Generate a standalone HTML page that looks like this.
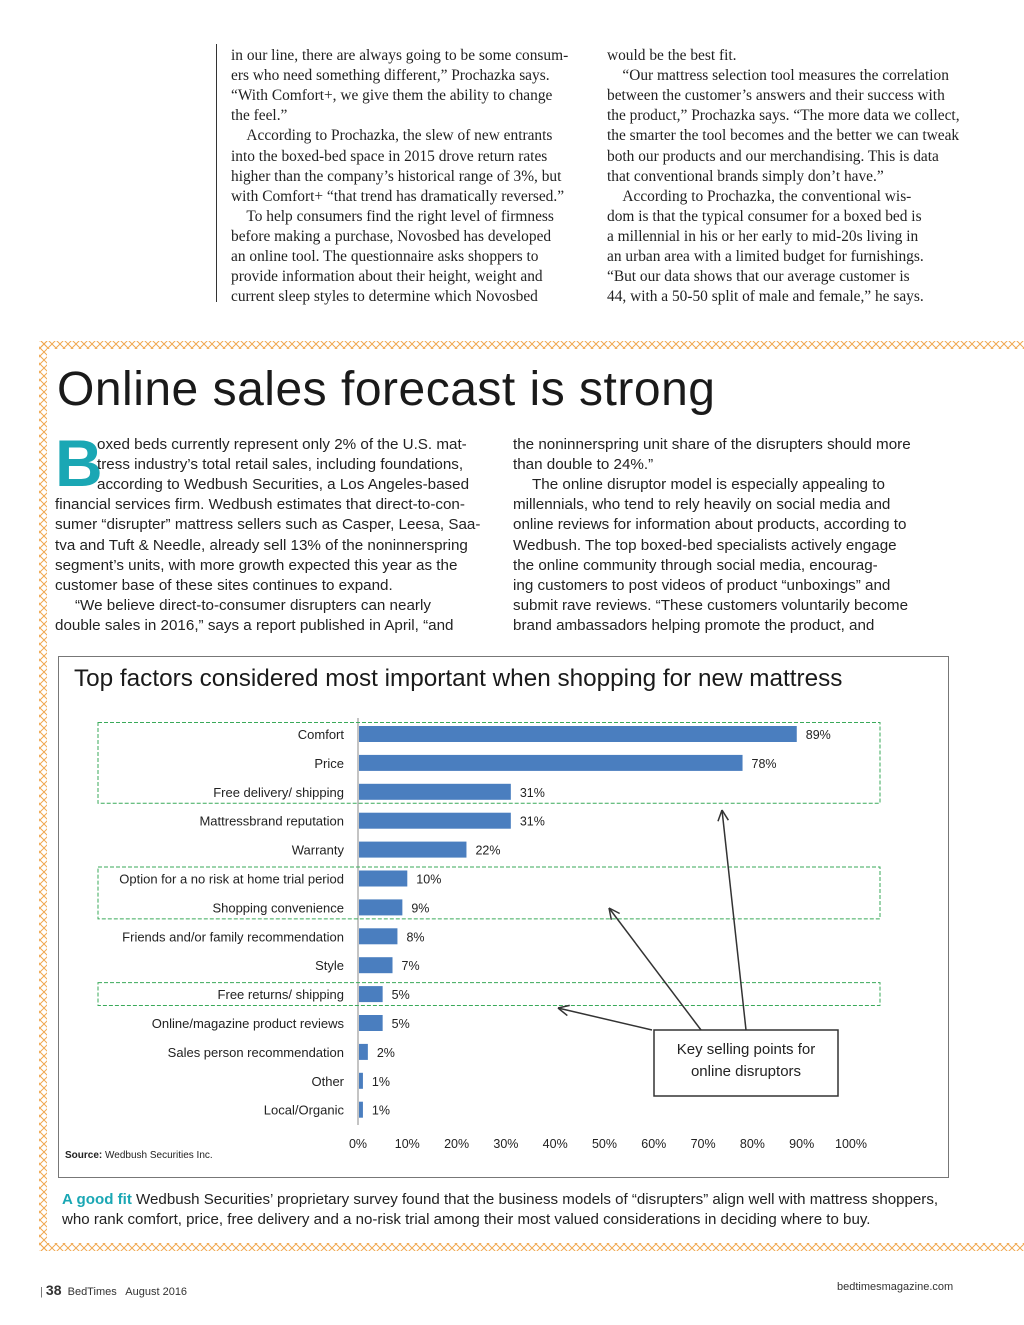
<!DOCTYPE html>
<html><head><meta charset="utf-8">
<style>
body{margin:0;background:#fff;}
#page{position:relative;width:1024px;height:1325px;overflow:hidden;background:#fff;font-family:"Liberation Sans",sans-serif;color:#222;}
.sl{position:absolute;font-family:"Liberation Serif",serif;font-size:15.4px;color:#222;white-space:nowrap;}
.al{position:absolute;font-size:15.2px;color:#222;white-space:nowrap;}
</style></head>
<body>
<div id="page">
<div style="position:absolute;left:216px;top:44px;width:1px;height:258px;background:#333"></div>
<div id="col1"></div>
<div id="col2"></div>

<svg width="1024" height="1325" style="position:absolute;left:0;top:0">
<defs>
<pattern id="ph" width="8" height="8" patternUnits="userSpaceOnUse"><path d="M0 4 L4 0 L8 4 L4 8 Z" fill="none" stroke="#f0a850" stroke-width="1"/></pattern>
</defs>
<rect x="40" y="341" width="984" height="8" fill="url(#ph)"/>
<rect x="40" y="1243" width="984" height="8" fill="url(#ph)"/>
<rect x="39" y="341" width="8" height="910" fill="url(#ph)"/>
</svg>

<div style="position:absolute;left:57px;top:362px;font-size:48px;color:#1a1a1a;letter-spacing:0.5px">Online sales forecast is strong</div>
<div style="position:absolute;left:55px;top:430px;font-size:66px;font-weight:bold;color:#1aa7b4;line-height:1">B</div>
<div id="art1"></div>
<div id="art2"></div>

<div style="position:absolute;left:58px;top:656px;width:889px;height:520px;border:1px solid #777"></div>
<div style="position:absolute;left:74px;top:665px;font-size:24.3px;color:#1a1a1a">Top factors considered most important when shopping for new mattress</div>
<svg id="chart" width="1024" height="1325" style="position:absolute;left:0;top:0"></svg>
<div style="position:absolute;left:65px;top:1150px;font-size:10px;color:#222"><b>Source:</b> Wedbush Securities Inc.</div>

<div style="position:absolute;left:62px;top:1190px;font-size:15.1px;line-height:20px;color:#222;white-space:nowrap"><b style="color:#1aa7b4">A good fit</b> Wedbush Securities’ proprietary survey found that the business models of “disrupters” align well with mattress shoppers,<br>who rank comfort, price, free delivery and a no-risk trial among their most valued considerations in deciding where to buy.</div>

<div style="position:absolute;left:40px;top:1282px;font-size:11px;color:#333;white-space:nowrap"><span style="color:#666">|</span> <b style="font-size:14px">38</b>&nbsp;&nbsp;BedTimes&nbsp;&nbsp; August 2016</div>
<div style="position:absolute;left:837px;top:1281px;font-size:11px;color:#333">bedtimesmagazine.com</div>
</div>

<script>
const col1Lines=["in our line, there are always going to be some consum-","ers who need something different,” Prochazka says.","“With Comfort+, we give them the ability to change","the feel.”","\u00a0\u00a0\u00a0\u00a0According to Prochazka, the slew of new entrants","into the boxed-bed space in 2015 drove return rates","higher than the company’s historical range of 3%, but","with Comfort+ “that trend has dramatically reversed.”","\u00a0\u00a0\u00a0\u00a0To help consumers find the right level of firmness","before making a purchase, Novosbed has developed","an online tool. The questionnaire asks shoppers to","provide information about their height, weight and","current sleep styles to determine which Novosbed"];
const col2Lines=["would be the best fit.","\u00a0\u00a0\u00a0\u00a0“Our mattress selection tool measures the correlation","between the customer’s answers and their success with","the product,” Prochazka says. “The more data we collect,","the smarter the tool becomes and the better we can tweak","both our products and our merchandising. This is data","that conventional brands simply don’t have.”","\u00a0\u00a0\u00a0\u00a0According to Prochazka, the conventional wis-","dom is that the typical consumer for a boxed bed is","a millennial in his or her early to mid-20s living in","an urban area with a limited budget for furnishings.","“But our data shows that our average customer is","44, with a 50-50 split of male and female,” he says."];
const art1Lines=[[97,"oxed beds currently represent only 2% of the U.S. mat-"],[97,"tress industry’s total retail sales, including foundations,"],[97,"according to Wedbush Securities, a Los Angeles-based"],[55,"financial services firm. Wedbush estimates that direct-to-con-"],[55,"sumer “disrupter” mattress sellers such as Casper, Leesa, Saa-"],[55,"tva and Tuft & Needle, already sell 13% of the noninnerspring"],[55,"segment’s units, with more growth expected this year as the"],[55,"customer base of these sites continues to expand."],[75,"“We believe direct-to-consumer disrupters can nearly"],[55,"double sales in 2016,” says a report published in April, “and"]];
const art2Lines=[[513,"the noninnerspring unit share of the disrupters should more"],[513,"than double to 24%.”"],[532,"The online disruptor model is especially appealing to"],[513,"millennials, who tend to rely heavily on social media and"],[513,"online reviews for information about products, according to"],[513,"Wedbush. The top boxed-bed specialists actively engage"],[513,"the online community through social media, encourag-"],[513,"ing customers to post videos of product “unboxings” and"],[513,"submit rave reviews. “These customers voluntarily become"],[513,"brand ambassadors helping promote the product, and"]];
function put(id,lines,x,y0,cls){const c=document.getElementById(id);lines.forEach((t,i)=>{const d=document.createElement('div');d.className=cls;d.style.left=(Array.isArray(t)?t[0]:x)+'px';d.style.top=(y0+i*20.1)+'px';d.textContent=Array.isArray(t)?t[1]:t;


c.appendChild(d);});}
put('col1',col1Lines,231,47,'sl');put('col2',col2Lines,607,47,'sl');
put('art1',art1Lines,0,436,'al');put('art2',art2Lines,0,436,'al');
</script>
<script>
const categories=["Comfort","Price","Free delivery/ shipping","Mattressbrand reputation","Warranty","Option for a no risk at home trial period","Shopping convenience","Friends and/or family recommendation","Style","Free returns/ shipping","Online/magazine product reviews","Sales person recommendation","Other","Local/Organic"];
const values=[89,78,31,31,22,10,9,8,7,5,5,2,1,1];
const xTicks=[0,10,20,30,40,50,60,70,80,90,100];
const NS="http://www.w3.org/2000/svg";
const svg=document.getElementById('chart');
const x0=358,x1=851,yTop=734,step=28.9,bh=16;
const xs=v=>x0+(x1-x0)*v/100;
const ys=i=>yTop+i*step;
function mk(tag,attrs,parent){const e=document.createElementNS(NS,tag);for(const k in attrs)e.setAttribute(k,attrs[k]);(parent||svg).appendChild(e);return e;}
const ax=mk('line',{x1:x0,x2:x0,y1:718,y2:1125,stroke:'#888','stroke-width':1});


categories.forEach((c,i)=>{
 const r=mk('rect',{x:x0+1,y:ys(i)-bh/2,width:xs(values[i])-x0-1,height:bh,fill:'#4a7ebf'});
 
 
 const l=mk('text',{x:344,y:ys(i)+5,'text-anchor':'end','font-size':13,fill:'#222','font-family':'Liberation Sans, sans-serif'});l.textContent=c;
 
 
 const v=mk('text',{x:xs(values[i])+9,y:ys(i)+5,'font-size':12.5,fill:'#222','font-family':'Liberation Sans, sans-serif'});v.textContent=values[i]+'%';
 
 
});
xTicks.forEach(t=>{const e=mk('text',{x:xs(t),y:1148,'text-anchor':'middle','font-size':12.5,fill:'#222','font-family':'Liberation Sans, sans-serif'});e.textContent=t+'%';
 
 });
[[0,2],[5,6],[9,9]].forEach(([a,b],k)=>{const y1=ys(a)-step/2+3,y2=ys(b)+step/2-3;
 const r=mk('rect',{x:98,y:y1,width:782,height:y2-y1,fill:'none',stroke:'#3aaa5a','stroke-dasharray':'4 2','stroke-width':1});
 
 });
const cb=mk('rect',{x:654,y:1030,width:184,height:66,fill:'#fff',stroke:'#333','stroke-width':1.5});


const ct=mk('text',{x:746,y:1054,'text-anchor':'middle','font-size':15,fill:'#222','font-family':'Liberation Sans, sans-serif'});ct.textContent='Key selling points for';


const ct2=mk('text',{x:746,y:1076,'text-anchor':'middle','font-size':15,fill:'#222','font-family':'Liberation Sans, sans-serif'});ct2.textContent='online disruptors';


[[746,1030,722,810],[701,1030,609,908],[652,1030,558,1008]].forEach(a=>{
 const g=mk('g',{stroke:'#333','stroke-width':1.5,fill:'none'});
 
 
 mk('line',{x1:a[0],y1:a[1],x2:a[2],y2:a[3]},g);
 const ang=Math.atan2(a[3]-a[1],a[2]-a[0]);const L=12;
 [0.45,-0.45].forEach(d=>mk('line',{x1:a[2],y1:a[3],x2:a[2]-L*Math.cos(ang+d),y2:a[3]-L*Math.sin(ang+d)},g));
});
</script>
</body></html>
